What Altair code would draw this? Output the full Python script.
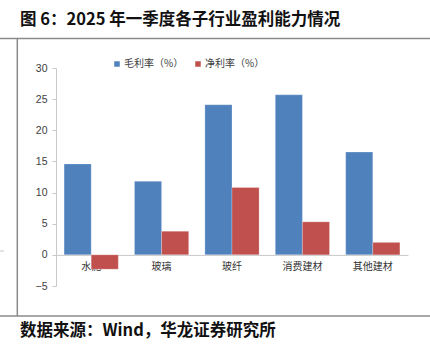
import altair as alt
import pandas as pd

categories = ["水泥", "玻璃", "玻纤", "消费建材", "其他建材"]
series = ["毛利率（%）", "净利率（%）"]
gross = [14.6, 11.8, 24.1, 25.7, 16.5]
net = [-2.3, 3.8, 10.8, 5.3, 2.0]
colors = ["#4F81BD", "#C0504D"]
title_text = "图 6：2025 年一季度各子行业盈利能力情况"
source_text = "数据来源：Wind，华龙证券研究所"

rows = []
for c, g, n in zip(categories, gross, net):
    rows.append({"cat": c, "series": series[0], "value": g})
    rows.append({"cat": c, "series": series[1], "value": n})
df = pd.DataFrame(rows)

W, H = 352, 218
CJK = "Noto Sans CJK SC"

bars = alt.Chart(df).mark_bar(stroke="white", strokeWidth=0.4, strokeOpacity=0.6).encode(
    x=alt.X("cat:N", sort=categories, title=None,
            scale=alt.Scale(paddingInner=0.23, paddingOuter=0.115),
            axis=alt.Axis(labelAngle=0, offset=-31.1, ticks=False, domainColor="#c8c8c8",
                          labelFont=CJK, labelFontSize=10, labelColor="#333333",
                          labelPadding=7, grid=False)),
    xOffset=alt.XOffset("series:N", sort=series, scale=alt.Scale(paddingInner=0, paddingOuter=0)),
    y=alt.Y("value:Q", title=None,
            scale=alt.Scale(domain=[-5, 30], nice=False),
            axis=alt.Axis(values=[-5, 0, 5, 10, 15, 20, 25, 30], grid=False,
                          domainColor="#c8c8c8", tickColor="#c8c8c8", tickSize=4,
                          labelFont="Liberation Sans", labelFontSize=10.5,
                          labelColor="#404040", labelPadding=5)),
    color=alt.Color("series:N", sort=series,
                    scale=alt.Scale(domain=series, range=colors),
                    legend=alt.Legend(title=None, orient="none", legendX=56, legendY=-9,
                                      direction="horizontal", symbolType="square",
                                      symbolSize=30, symbolStrokeWidth=0,
                                      labelFont=CJK, labelFontSize=10, labelColor="#404040",
                                      labelOffset=2, columnPadding=9)),
)

one = pd.DataFrame({"k": [0]})

title = alt.Chart(one).mark_text(align="left", baseline="middle", font=CJK,
                                 fontSize=16.5, fontWeight="bold", color="#111111").encode(
    x=alt.value(-36), y=alt.value(-48.5), text=alt.value(title_text))

source = alt.Chart(one).mark_text(align="left", baseline="middle", font=CJK,
                                  fontSize=16.5, fontWeight="bold", color="#111111").encode(
    x=alt.value(-36), y=alt.value(263), text=alt.value(source_text))

line_color = "#8a8a8a"
top_rule = alt.Chart(one).mark_rule(color=line_color, strokeWidth=1.5).encode(
    x=alt.value(-56), x2=alt.value(374), y=alt.value(-29.5))
bottom_rule = alt.Chart(one).mark_rule(color=line_color, strokeWidth=1.5).encode(
    x=alt.value(-56), x2=alt.value(374), y=alt.value(248))
vert_rule = alt.Chart(one).mark_rule(color=line_color, strokeWidth=1.5).encode(
    x=alt.value(-38.7), y=alt.value(-29.5), y2=alt.value(248))
dash = alt.Chart(one).mark_rule(color="#c8c8c8", strokeWidth=1).encode(
    x=alt.value(-56), x2=alt.value(-52), y=alt.value(183))

chart = alt.layer(bars, title, source, top_rule, bottom_rule, vert_rule, dash).properties(
    width=W, height=H,
    autosize=alt.AutoSizeParams(type="none"),
    padding={"left": 56, "top": 68, "right": 22, "bottom": 67},
).configure(background="white").configure_view(stroke=None)

chart.save("out.html", embed_options={"renderer": "svg", "actions": False})
